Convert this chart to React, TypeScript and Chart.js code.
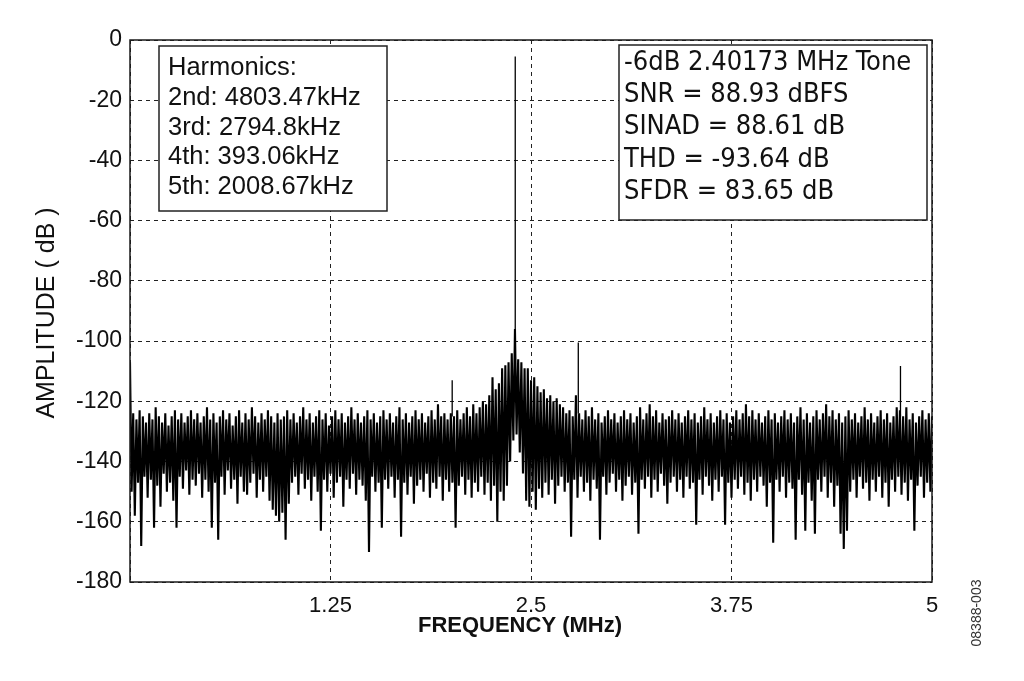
import React, { useEffect, useRef } from "react";
import { Chart, registerables } from "chart.js";
import type { Plugin } from "chart.js";

Chart.register(...registerables);

// FFT bin spacing of the plotted trace (MHz)
const binStepMHz = 0.01;

// noise floor, one value per bin from 0 to 5 MHz (dB)
const noiseDb: number[] = [
  -107, -150, -124, -158, -126, -147, -123, -168, -125, -145, -127, -152, -124, -146, -126, -162, -122, -148, -125, -155,
  -127, -144, -124, -150, -128, -147, -125, -153, -123, -162, -126, -145, -124, -149, -127, -143, -125, -151, -123, -146,
  -126, -148, -124, -144, -127, -152, -125, -146, -122, -150, -126, -162, -124, -147, -127, -166, -125, -145, -123, -151,
  -126, -143, -124, -149, -128, -146, -125, -154, -123, -145, -127, -150, -124, -151, -126, -147, -122, -144, -125, -152,
  -127, -146, -124, -150, -126, -145, -123, -153, -125, -156, -127, -158, -124, -160, -126, -157, -125, -166, -123, -154,
  -126, -147, -124, -145, -127, -151, -125, -144, -122, -149, -126, -146, -124, -153, -127, -145, -125, -150, -123, -163,
  -126, -146, -124, -150, -128, -144, -125, -152, -123, -147, -126, -145, -124, -155, -127, -146, -125, -149, -122, -144,
  -126, -151, -124, -146, -127, -148, -125, -153, -123, -170, -126, -145, -124, -150, -127, -147, -125, -162, -123, -146,
  -126, -149, -124, -145, -127, -152, -125, -146, -122, -165, -126, -147, -124, -151, -127, -145, -125, -154, -123, -148,
  -126, -146, -124, -150, -127, -144, -125, -152, -123, -147, -126, -149, -121, -145, -125, -153, -124, -146, -126, -150,
  -124, -147, -125, -162, -123, -148, -126, -145, -124, -151, -122, -146, -125, -152, -121, -147, -124, -150, -122, -145,
  -120, -151, -121, -147, -118, -153, -112, -148, -116, -160, -114, -150, -109, -153, -108, -148, -107, -140, -104, -133,
  -96, -131, -106, -137, -107, -144, -109, -153, -109, -155, -113, -150, -112, -156, -115, -149, -117, -152, -116, -147,
  -119, -151, -118, -146, -120, -154, -119, -148, -121, -145, -122, -150, -124, -147, -123, -165, -125, -146, -118, -152,
  -124, -145, -126, -150, -123, -147, -125, -153, -122, -146, -126, -149, -124, -166, -127, -145, -125, -151, -123, -147,
  -126, -144, -124, -150, -127, -146, -125, -153, -123, -148, -126, -145, -124, -151, -127, -147, -125, -164, -122, -146,
  -126, -149, -124, -145, -121, -152, -125, -146, -123, -150, -127, -144, -124, -148, -126, -154, -125, -147, -123, -145,
  -126, -150, -124, -146, -127, -152, -125, -145, -123, -149, -126, -147, -124, -161, -127, -146, -125, -151, -122, -145,
  -126, -148, -124, -153, -127, -146, -125, -150, -123, -145, -126, -161, -124, -147, -127, -152, -125, -146, -123, -149,
  -126, -145, -124, -151, -121, -147, -125, -153, -123, -146, -126, -150, -124, -145, -127, -148, -125, -155, -123, -147,
  -126, -167, -124, -146, -127, -150, -125, -145, -123, -152, -126, -147, -124, -149, -127, -166, -125, -146, -122, -151,
  -126, -163, -124, -147, -127, -153, -125, -164, -123, -146, -126, -150, -124, -145, -121, -152, -125, -147, -123, -155,
  -126, -148, -124, -164, -127, -169, -125, -163, -123, -150, -126, -146, -124, -152, -127, -145, -125, -149, -122, -147,
  -126, -153, -124, -146, -127, -150, -125, -145, -123, -152, -126, -147, -124, -155, -127, -146, -125, -150, -122, -145,
  -123, -151, -125, -147, -122, -153, -126, -146, -124, -163, -127, -148, -125, -145, -123, -152, -126, -147, -124, -150,
  -125,
];

// tone and harmonic spurs standing out of the floor
const spurFreqMHz = [2.00867, 2.40173, 2.7948, 4.80347];
const spurPeakDb = [-113, -5.5, -100.5, -108.3];
const spurBaseDb = [-125, -100, -124, -125];

const xTickValues = [0, 1.25, 2.5, 3.75, 5];
const xTickLabels = ["", "1.25", "2.5", "3.75", "5"];
const yTickValues = [-180, -160, -140, -120, -100, -80, -60, -40, -20, 0];

const harmonicsLines = [
  "Harmonics:",
  "2nd: 4803.47kHz",
  "3rd: 2794.8kHz",
  "4th: 393.06kHz",
  "5th: 2008.67kHz",
];
const statsLines = [
  "-6dB 2.40173 MHz Tone",
  "SNR = 88.93 dBFS",
  "SINAD = 88.61 dB",
  "THD = -93.64 dB",
  "SFDR = 83.65 dB",
];

const SANS = "'Liberation Sans', Arial, sans-serif";

function drawTextBox(
  ctx: CanvasRenderingContext2D,
  x: number,
  y: number,
  w: number,
  h: number,
  lines: string[],
  textX: number,
  firstY: number,
  step: number,
  font: string
) {
  ctx.fillStyle = "#fff";
  ctx.fillRect(x, y, w, h);
  ctx.strokeStyle = "#222";
  ctx.lineWidth = 1.5;
  ctx.strokeRect(x, y, w, h);
  ctx.fillStyle = "#111";
  ctx.font = font;
  ctx.textAlign = "left";
  ctx.textBaseline = "middle";
  lines.forEach((line, i) => ctx.fillText(line, textX, firstY + i * step));
}

const decorations: Plugin<"line"> = {
  id: "decorations",
  afterDraw(chart) {
    const { ctx, chartArea: a } = chart;
    ctx.save();

    // solid plot frame
    ctx.strokeStyle = "#1a1a1a";
    ctx.lineWidth = 1.5;
    ctx.strokeRect(a.left, a.top, a.right - a.left, a.bottom - a.top);

    drawTextBox(ctx, 159, 46, 228, 165, harmonicsLines, 168, 68, 29.8, `25.5px ${SANS}`);
    drawTextBox(
      ctx,
      619,
      45,
      308,
      175,
      statsLines,
      624,
      63,
      32.2,
      "27px 'DejaVu Sans Condensed', 'Liberation Sans', sans-serif"
    );

    // axis titles
    ctx.fillStyle = "#111";
    ctx.textAlign = "center";
    ctx.textBaseline = "middle";
    ctx.font = `bold 22px ${SANS}`;
    ctx.fillText("FREQUENCY (MHz)", 520, 626);

    ctx.save();
    ctx.translate(47, 313);
    ctx.rotate(-Math.PI / 2);
    ctx.font = `25px ${SANS}`;
    ctx.fillText("AMPLITUDE ( dB )", 0, 0);
    ctx.restore();

    // figure number
    ctx.save();
    ctx.translate(977, 613);
    ctx.rotate(-Math.PI / 2);
    ctx.font = `14px ${SANS}`;
    ctx.fillStyle = "#333";
    ctx.fillText("08388-003", 0, 0);
    ctx.restore();

    ctx.restore();
  },
};

const App: React.FC = () => {
  const canvasRef = useRef<HTMLCanvasElement | null>(null);

  useEffect(() => {
    if (!canvasRef.current) return;

    const noisePoints = noiseDb.map((y, i) => ({ x: i * binStepMHz, y }));
    const spurPoints = spurFreqMHz.flatMap((f, i) => [
      { x: f, y: spurBaseDb[i] },
      { x: f, y: spurPeakDb[i] },
      { x: f, y: null as number | null },
    ]);

    const chart = new Chart(canvasRef.current, {
      type: "line",
      data: {
        datasets: [
          {
            label: "FFT",
            data: noisePoints,
            borderColor: "#000",
            borderWidth: 2.1,
            pointRadius: 0,
            tension: 0,
          },
          {
            label: "Spurs",
            data: spurPoints as any,
            borderColor: "#000",
            borderWidth: 1.3,
            pointRadius: 0,
            tension: 0,
            spanGaps: false,
          },
        ],
      },
      options: {
        animation: false,
        responsive: true,
        maintainAspectRatio: false,
        layout: { padding: { top: 40, right: 92, bottom: 0, left: 0 } },
        plugins: {
          legend: { display: false },
          tooltip: { enabled: false },
        },
        scales: {
          x: {
            type: "linear",
            min: 0,
            max: 5,
            afterBuildTicks: (s) => {
              s.ticks = xTickValues.map((v) => ({ value: v }));
            },
            afterFit: (s) => {
              s.height = 99;
            },
            ticks: {
              autoSkip: false,
              maxRotation: 0,
              padding: 11,
              color: "#111",
              font: { family: SANS, size: 22 },
              callback: (_v, i) => xTickLabels[i],
            },
            grid: { color: "#222", lineWidth: 1, drawTicks: false },
            border: { display: false, dash: [4, 4] },
          },
          y: {
            type: "linear",
            min: -180,
            max: 0,
            afterBuildTicks: (s) => {
              s.ticks = yTickValues.map((v) => ({ value: v }));
            },
            afterFit: (s) => {
              s.width = 130;
            },
            ticks: {
              autoSkip: false,
              padding: 8,
              color: "#111",
              font: { family: SANS, size: 23 },
              callback: (v) => String(v),
            },
            grid: { color: "#222", lineWidth: 1, drawTicks: false },
            border: { display: false, dash: [4, 4] },
          },
        },
      },
      plugins: [decorations],
    });

    return () => chart.destroy();
  }, []);

  return (
    <div style={{ position: "absolute", left: 0, top: 0, width: 1024, height: 681 }}>
      <canvas ref={canvasRef} />
    </div>
  );
};

export default App;
